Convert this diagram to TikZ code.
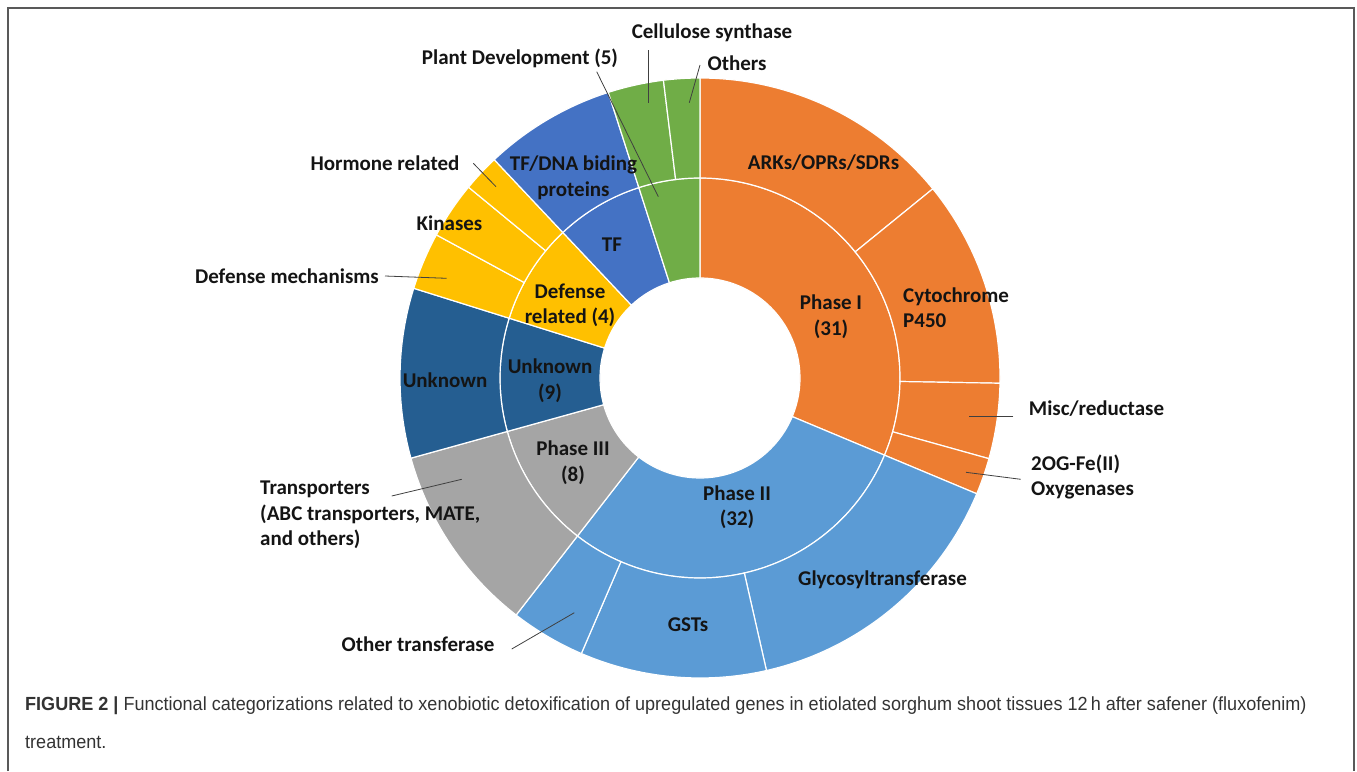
\documentclass[tikz,border=0pt]{standalone}
\usepackage{fontspec}
\usepackage{tikz}
\usetikzlibrary{positioning}
\newfontfamily\chartfont{Carlito}
\newfontfamily\capfont[FakeStretch=0.95]{Liberation Sans}
\definecolor{phaseone}{HTML}{ED7D31}
\definecolor{phasetwo}{HTML}{5B9BD5}
\definecolor{phasethree}{HTML}{A5A5A5}
\definecolor{unknownblue}{HTML}{255E91}
\definecolor{defenseyellow}{HTML}{FFC000}
\definecolor{tfblue}{HTML}{4472C4}
\definecolor{plantgreen}{HTML}{70AD47}
\newcommand{\holeR}{100}
\newcommand{\midR}{200}
\newcommand{\outR}{300}
\newcommand{\ringseg}[5]{\filldraw[segment, fill=#5] (#1:#3) arc[start angle=#1, end angle=#2, radius=#3] -- (#2:#4) arc[start angle=#2, end angle=#1, radius=#4] -- cycle;}
\tikzset{
	segment/.style={draw=white, line width=1.2pt},
	lbl/.style={font=\chartfont\bfseries\fontsize{21}{25.5}\selectfont, text=black!92, align=center, inner sep=0pt},
	leader/.style={draw=black!75, line width=0.8pt},
	frame/.style={draw=black!65, line width=1.6pt},
	capstyle/.style={font=\capfont\fontsize{19}{23}\selectfont, text=black!80, inner sep=0pt}
}

\begin{document}
\begin{tikzpicture}[x=1pt, y=-1pt]
	\useasboundingbox (0,0) rectangle (1357,771);
	\draw[frame] (8,771) -- (8,8) -- (1354,8) -- (1354,771);

	\begin{scope}[shift={(700,378)}, y=1pt]
		\foreach \a/\b/\col in {90/-22.7/phaseone, -22.7/-127.8/phasetwo, -127.8/-164.5/phasethree, -164.5/-197.4/unknownblue, -197.4/-226.7/defenseyellow, -226.7/-252.2/tfblue, -252.2/-270/plantgreen}
			\ringseg{\a}{\b}{\holeR}{\midR}{\col};
		\foreach \a/\b/\col in {90/39.1/phaseone, 39.1/-1/phaseone, -1/-15.6/phaseone, -15.6/-22.7/phaseone, -22.7/-77.2/phasetwo, -77.2/-113.3/phasetwo, -113.3/-127.8/phasetwo, -127.8/-164.5/phasethree, -164.5/-197.4/unknownblue, -197.4/-208.5/defenseyellow, -208.5/-219.5/defenseyellow, -219.5/-226.7/defenseyellow, -226.7/-252.2/tfblue, -252.2/-263/plantgreen, -263/-270/plantgreen}
			\ringseg{\a}{\b}{\midR}{\outR}{\col};
	\end{scope}

	\node[lbl] (phaseI) at (831,316.5) {Phase I\\(31)};
	\node[lbl] (phaseII) at (737,507) {Phase II\\(32)};
	\node[lbl] (phaseIII) at (573,462.5) {Phase III\\(8)};
	\node[lbl] (unknownin) at (550,380.5) {Unknown\\(9)};
	\node[lbl] (defense) at (570,305.5) {Defense\\related (4)};
	\node[lbl] (tf) at (612,245) {TF};
	\node[lbl] (arks) at (823.5,163) {ARKs/OPRs/SDRs};
	\node[lbl, align=left, anchor=west] (cyto) at (903,307.5) {Cytochrome\\P450};
	\node[lbl] (glyco) at (882.5,580) {Glycosyltransferase};
	\node[lbl] (gsts) at (688,625) {GSTs};
	\node[lbl] (unknownout) at (445,380) {Unknown};
	\node[lbl] (tfdna) at (573.5,178) {TF/DNA biding\\proteins};

	\node[lbl] (cellulose) at (712,33) {Cellulose synthase};
	\node[lbl] (plantdev) at (520,58) {Plant Development (5)};
	\node[lbl] (others) at (737,63) {Others};
	\node[lbl] (hormone) at (385,163) {Hormone related};
	\node[lbl] (kinases) at (449.5,223) {Kinases};
	\node[lbl] (defmech) at (287,276) {Defense mechanisms};
	\node[lbl, align=left, anchor=west] (transp) at (260,515) {Transporters\\(ABC transporters, MATE,\\and others)};
	\node[lbl] (othertrans) at (418,644) {Other transferase};
	\node[lbl] (misc) at (1096.5,409) {Misc/reductase};
	\node[lbl, align=left, anchor=west] (ogfe) at (1031,477) {2OG-Fe(II)\\Oxygenases};

	\coordinate (plantdev-a) at (596.7,71.7);
	\coordinate (plantdev-b) at (658.3,196.7);
	\coordinate (cellulose-a) at (648.3,50);
	\coordinate (cellulose-b) at (648.3,103.3);
	\coordinate (others-a) at (700,65);
	\coordinate (others-b) at (689.3,102.7);
	\coordinate (hormone-a) at (473.3,163.3);
	\coordinate (hormone-b) at (496,186.7);
	\coordinate (defmech-a) at (385,276);
	\coordinate (defmech-b) at (446.7,278.3);
	\coordinate (transp-a) at (391.7,496);
	\coordinate (transp-b) at (461.7,479.3);
	\coordinate (othertrans-a) at (511.7,649);
	\coordinate (othertrans-b) at (574.3,612.7);
	\coordinate (misc-a) at (1013.3,416);
	\coordinate (misc-b) at (969.3,416);
	\coordinate (ogfe-a) at (1020.7,479.3);
	\coordinate (ogfe-b) at (966,472.3);

	\foreach \n in {plantdev, cellulose, others, hormone, defmech, transp, othertrans, misc, ogfe}
		\draw[leader] (\n-a) -- (\n-b);

	\node[capstyle, anchor=west] (figcap) at (25,706) {{\bfseries FIGURE 2 |} Functional categorizations related to xenobiotic detoxification of upregulated genes in etiolated sorghum shoot tissues 12\,h after safener (fluxofenim)};
	\node[capstyle, anchor=west] (figcapb) at (25,742) {treatment.};
\end{tikzpicture}
\end{document}
